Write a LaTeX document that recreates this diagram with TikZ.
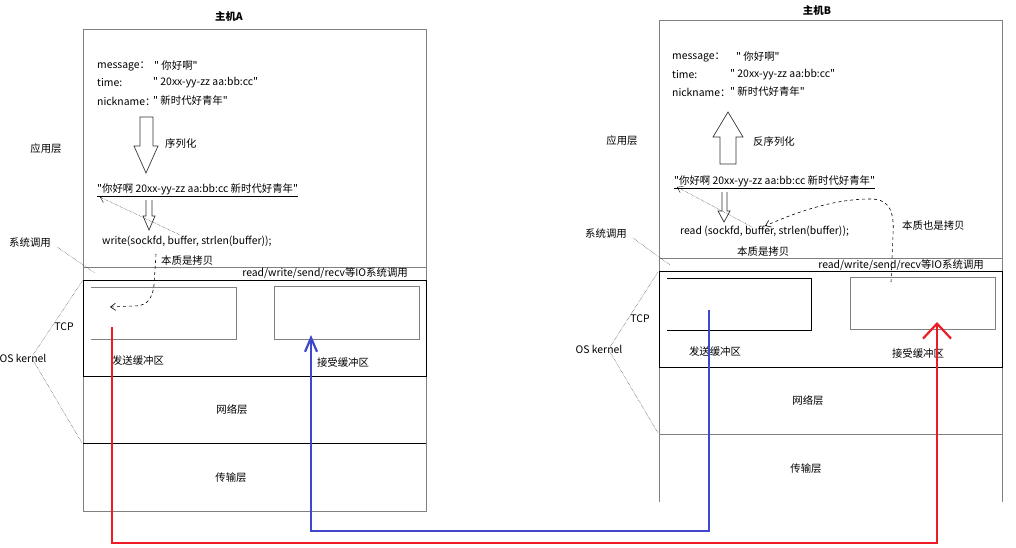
\documentclass[tikz,border=0pt]{standalone}
\usepackage{fontspec}
\setmainfont{Noto Sans CJK SC}[Ligatures=TeXOff]
\usepackage{xcolor}
\usetikzlibrary{positioning, arrows.meta}

\definecolor{boxgray}{HTML}{808080}
\definecolor{pathred}{HTML}{ED1C24}
\definecolor{pathblue}{HTML}{3F48CC}

\begin{document}
\begin{tikzpicture}[
		x=1pt, y=-1pt,
		>={Straight Barb[length=5pt, width=7pt]}, % offene Pfeilspitzen
		every node/.style={font=\fontsize{10.4}{12}\selectfont, inner sep=0pt},
		txt/.style={anchor=west},
		title/.style={font=\fontsize{10.4}{12}\selectfont\bfseries},
		frame/.style={draw=boxgray, line width=0.8pt},
		kern/.style={draw=black, line width=0.9pt},
		hint/.style={draw=black, line width=0.4pt, densely dotted},
		copyline/.style={draw=black, line width=0.6pt, dashed, ->},
		bigarrow/.style={draw=black!80, line width=0.7pt, fill=white},
		datapath/.style={line width=2.2pt, line join=miter}
		]
		
		\useasboundingbox (0,0) rectangle (1016,548);
		
		% 1. Host A: Rahmen und Schichten
		\node[title] (titleA) at (229,17) {主机A};
		\draw[frame] (83,29) rectangle (426,511);
		\draw[frame] (83,267) -- (426,267);
		\draw[kern] (83,280) rectangle (426,376);
		\draw[kern] (83,443) -- (426,443);
		\draw[frame] (91,287) -- (236,287) -- (236,339) -- (91,339);
		\draw[frame] (274,286) rectangle (419,339);
		
		% Anwendungsdaten A
		\node[txt] (msgA) at (97,66) {message：};
		\node[txt] (msgAv) at (154,66) {" 你好啊"};
		\node[txt] (timeA) at (97,83) {time:};
		\node[txt] (timeAv) at (153,83) {" 20xx-yy-zz aa:bb:cc"};
		\node[txt] (nickA) at (97,101) {nickname：};
		\node[txt] (nickAv) at (153,101) {" 新时代好青年"};
		
		\draw[bigarrow] (140,117) -- (153,117) -- (153,146) -- (158,146) -- (146,173) -- (134,146) -- (140,146) -- cycle;
		\node[txt] (serlA) at (165,144) {序列化};
		
		\node[txt] (serA) at (97,189) {"你好啊 20xx-yy-zz aa:bb:cc 新时代好青年"};
		\draw[line width=0.7pt] ([yshift=-1.5pt]serA.south west) -- ([yshift=-1.5pt]serA.south east);
		\draw[bigarrow] (146,200) -- (146,216) -- (143,216) -- (149,230) -- (155,216) -- (152,216) -- (152,200);
		
		\node[txt] (writeA) at (102,241) {write(sockfd, buffer, strlen(buffer));};
		\node[txt] (copyA) at (161,261) {本质是拷贝};
		\node[anchor=east] (bandA) at (408,273) {read/write/send/recv等IO系统调用};
		
		\node (sbufA) at (138,361) {发送缓冲区};
		\node (rbufA) at (343,363) {接受缓冲区};
		\node (netA) at (232,410) {网络层};
		\node (tranA) at (231,478) {传输层};
		
		% Beschriftungen links A
		\node (appA) at (46,149) {应用层};
		\node (sysA) at (30,243) {系统调用};
		\node (tcpA) at (64,327) {TCP};
		\node (osA) at (23,358) {OS kernel};
		\draw[hint] (57,247) -- (95,273);
		\draw[hint] (33,355) -- (83,280);
		\draw[hint] (33,360) -- (82,443);
		
		% Kopierpfade A
		\coordinate (bufA) at (180,235);
		\coordinate (serAend) at (100,197);
		\draw[hint, ->] (bufA) -- (serAend);
		\coordinate (cpA) at (156,254);
		\coordinate (cpAend) at (110,307);
		\draw[copyline] (cpA) -- (154,285) .. controls (152,302) and (145,306) .. (133,306) -- (cpAend);
		
		% 2. Host B: Rahmen und Schichten
		\node[title] (titleB) at (817,11) {主机B};
		\draw[frame] (659,502) -- (659,20) -- (1002,20) -- (1002,502);
		\draw[frame] (659,258) -- (1002,258);
		\draw[kern] (659,271) rectangle (1002,367);
		\draw[frame] (659,434) -- (1002,434);
		\draw[kern] (667,278) -- (811,278) -- (811,330) -- (667,330);
		\draw[frame] (850,277) rectangle (995,329);
		
		% Anwendungsdaten B
		\node[txt] (msgB) at (672,57) {message：};
		\node[txt] (msgBv) at (736,57) {" 你好啊"};
		\node[txt] (timeB) at (672,75) {time:};
		\node[txt] (timeBv) at (730,75) {" 20xx-yy-zz aa:bb:cc"};
		\node[txt] (nickB) at (672,92) {nickname：};
		\node[txt] (nickBv) at (730,92) {" 新时代好青年"};
		
		\draw[bigarrow] (720,164) -- (720,137) -- (713,137) -- (728,112) -- (743,137) -- (736,137) -- (736,164) -- cycle;
		\node[txt] (dserB) at (753,142) {反序列化};
		
		\node[txt] (serB) at (674,181) {"你好啊 20xx-yy-zz aa:bb:cc 新时代好青年"};
		\draw[line width=0.7pt] ([yshift=-1.5pt]serB.south west) -- ([yshift=-1.5pt]serB.south east);
		\draw[bigarrow] (722,192) -- (722,211) -- (718,211) -- (724,222) -- (730,211) -- (727,211) -- (727,192);
		
		\node[txt] (readB) at (680,231) {read (sockfd, buffer, strlen(buffer));};
		\node[txt] (copyB) at (737,252) {本质是拷贝};
		\node[txt] (copyB2) at (902,226) {本质也是拷贝};
		\node[anchor=east] (bandB) at (984,265) {read/write/send/recv等IO系统调用};
		
		\node (sbufB) at (715,352) {发送缓冲区};
		\node (rbufB) at (918,354) {接受缓冲区};
		\node (netB) at (808,401) {网络层};
		\node (tranB) at (806,469) {传输层};
		
		% Beschriftungen links B
		\node (appB) at (622,141) {应用层};
		\node (sysB) at (606,234) {系统调用};
		\node (tcpB) at (640,319) {TCP};
		\node (osB) at (599,349) {OS kernel};
		\draw[hint] (633,238) -- (670,265);
		\draw[hint] (610,347) -- (658,272);
		\draw[hint] (610,352) -- (658,433);
		
		% Kopierpfade B
		\coordinate (bufB) at (752,227);
		\coordinate (serBend) at (677,187);
		\draw[hint, ->] (bufB) -- (serBend);
		\coordinate (cpB) at (891,282);
		\coordinate (cpBend) at (765,226);
		\draw[copyline] (cpB) -- (893,235) .. controls (895,205) and (885,199) .. (870,199) .. controls (830,199) and (790,215) .. (cpBend);
		
		% 3. Datenwege zwischen den Hosts
		\coordinate (sendA) at (112,327);
		\coordinate (recvB) at (937,322);
		\coordinate (sendB) at (709,310);
		\coordinate (recvA) at (311,335);
		\draw[datapath, pathred, -{Straight Barb[length=15pt, width=28pt, line width=2.2pt]}]
		(sendA) -- (112,543) -| (recvB);
		\draw[datapath, pathblue, -{Straight Barb[length=14pt, width=12pt, line width=2.2pt]}]
		(sendB) -- (709,531) -| (recvA);
		
	\end{tikzpicture}
\end{document}
